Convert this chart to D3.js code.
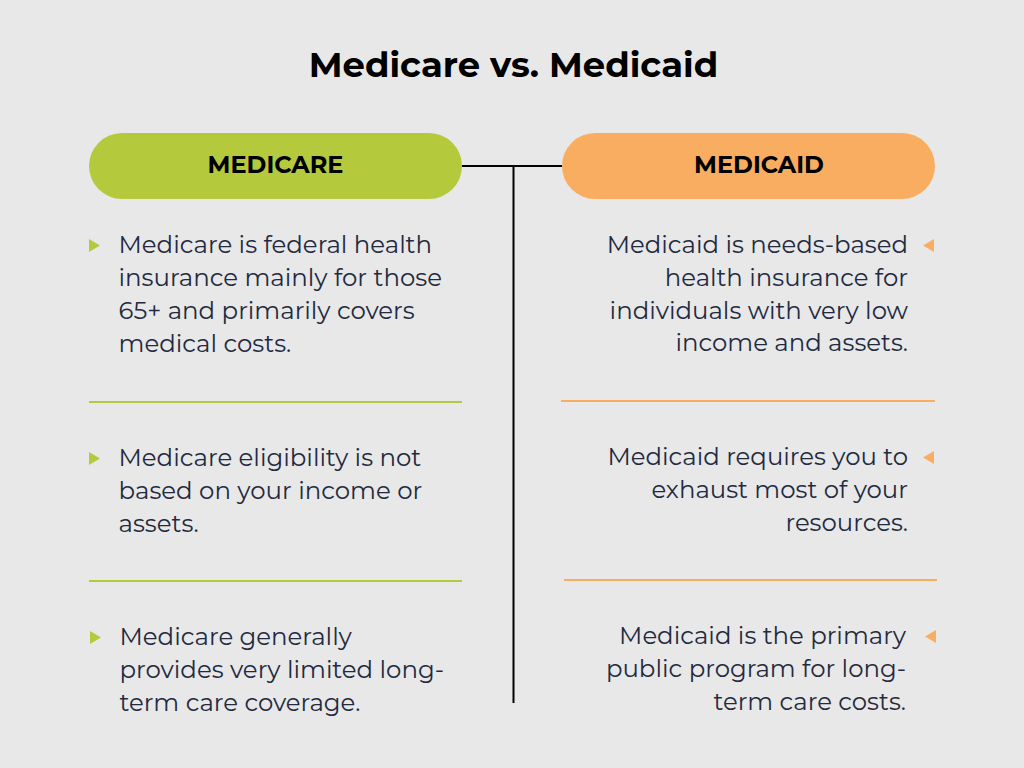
<!DOCTYPE html>
<html>
<head>
<meta charset="utf-8">
<script src="https://cdn.jsdelivr.net/npm/d3@7"></script>
<style>
  html, body { margin: 0; padding: 0; background: #e8e8e8; }
  svg { display: block; }
  text { font-family: Montserrat, "Open Sans", "Noto Sans", sans-serif; }
</style>
</head>
<body>
<script>
const title = 'Medicare vs. Medicaid';
const headers = ['MEDICARE', 'MEDICAID'];
const medicareLines = [
  ['Medicare is federal health', 'insurance mainly for those', '65+ and primarily covers', 'medical costs.'],
  ['Medicare eligibility is not', 'based on your income or', 'assets.'],
  ['Medicare generally', 'provides very limited long-', 'term care coverage.']
];
const medicaidLines = [
  ['Medicaid is needs-based', 'health insurance for', 'individuals with very low', 'income and assets.'],
  ['Medicaid requires you to', 'exhaust most of your', 'resources.'],
  ['Medicaid is the primary', 'public program for long-', 'term care costs.']
];

const svg = d3.select('body').append('svg').attr('width', 1024).attr('height', 768);
svg.append('rect').attr('width', 1024).attr('height', 768).attr('fill', '#e8e8e8');

svg.append('text').attr('x', 513.5).attr('y', 77).attr('text-anchor', 'middle')
  .attr('font-size', 35.4).attr('font-weight', 700).attr('fill', '#000').text(title);

// centre connector
svg.append('line').attr('x1', 462).attr('x2', 562).attr('y1', 166).attr('y2', 166).attr('stroke', '#000').attr('stroke-width', 2);
svg.append('line').attr('x1', 513.5).attr('x2', 513.5).attr('y1', 166).attr('y2', 703).attr('stroke', '#000').attr('stroke-width', 2);

const columns = [
  { name: headers[0], color: '#b5c93c', x: 89, w: 373, lines: medicareLines, right: false,
    tops: [245, 458, 637], rules: [402, 581], textX: 118.5, markX: 89, ruleX: [89, 89], lead: 33, size: 24.45 },
  { name: headers[1], color: '#f9ad60', x: 562, w: 373, lines: medicaidLines, right: true,
    tops: [245, 457, 636], rules: [401, 580], textX: 908, markX: 934, ruleX: [561, 564], lead: 32.8, size: 24.4 }
];

columns.forEach(c => {
  svg.append('rect').attr('x', c.x).attr('y', 133).attr('width', c.w).attr('height', 66)
    .attr('rx', 33).attr('fill', c.color);
  svg.append('text').attr('x', c.right ? 759 : c.x + c.w / 2).attr('y', 173).attr('text-anchor', 'middle')
    .attr('font-size', 24).attr('font-weight', 700).attr('fill', '#000').text(c.name);

  c.lines.forEach((lines, i) => {
    const tx = c.textX + (i === 2 ? (c.right ? -2 : 1) : 0);
    lines.forEach((l, j) => {
      svg.append('text').attr('x', tx).attr('y', c.tops[i] + 8 + j * c.lead)
        .attr('text-anchor', c.right ? 'end' : 'start')
        .attr('font-size', c.size).attr('fill', '#232a40').text(l);
    });
    const mx = c.markX + (i === 2 ? (c.right ? 2 : 1) : 0), my = c.tops[i] + 0.5;
    const d = c.right
      ? `M${mx},${my - 6.5}L${mx - 11},${my}L${mx},${my + 6.5}Z`
      : `M${mx},${my - 6.5}L${mx + 11},${my}L${mx},${my + 6.5}Z`;
    svg.append('path').attr('d', d).attr('fill', c.color);
  });

  c.rules.forEach((y, i) => {
    svg.append('line').attr('x1', c.ruleX[i]).attr('x2', c.ruleX[i] + c.w + (c.right && i === 0 ? 1 : 0)).attr('y1', y).attr('y2', y)
      .attr('stroke', c.color).attr('stroke-width', 2);
  });
});
</script>
</body>
</html>
